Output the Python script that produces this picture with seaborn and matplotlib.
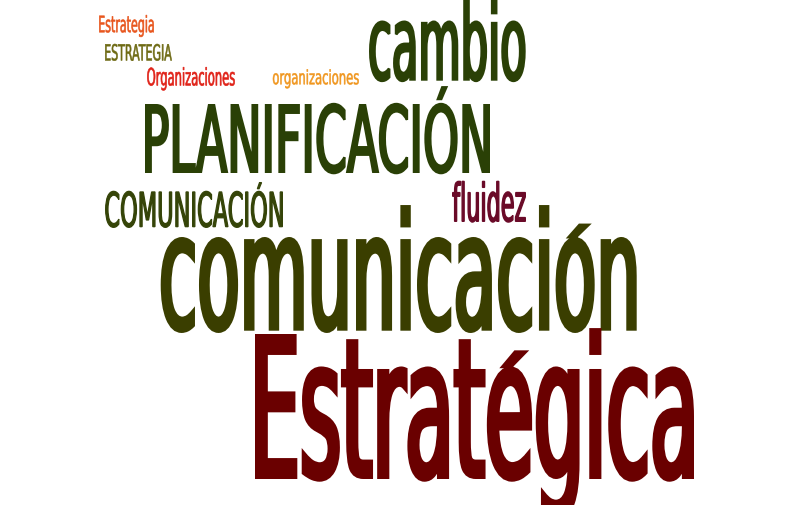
import matplotlib
matplotlib.use("Agg")
import numpy as np
import matplotlib.pyplot as plt
import seaborn as sns
from matplotlib.text import Text
from matplotlib.textpath import TextPath
from matplotlib.path import Path
from matplotlib.font_manager import FontProperties
from matplotlib.transforms import Affine2D, Bbox
from matplotlib import patheffects

# words of the cloud
words = ["Estrategia", "ESTRATEGIA", "Organizaciones", "organizaciones", "cambio",
         "PLANIFICACIÓN", "COMUNICACIÓN", "fluidez", "comunicación", "Estratégica"]
colors = ["#e8561e", "#6e6a14", "#e02218", "#f0961e", "#2a4006",
          "#2a4006", "#354408", "#6a0a28", "#3a3e00", "#6a0000"]

# layout (pixels of the 792x506 image): left, right, top of ref glyph, baseline, ref glyph
layout = [
    (99, 154, 16.5, 33.5, "E"),
    (105, 172, 45, 61.7, "E"),
    (147, 235, 68.3, 86.7, "O"),
    (272.7, 359, 74, 85.5, "o"),
    (369, 525.7, 21.5, 81.7, "o"),
    (145, 490, 105, 174, "P"),
    (105, 283, 191.7, 228.3, "C"),
    (452, 526, 181.7, 223, "l"),
    (160.7, 636.7, 238, 331.7, "o"),
    (255, 694, 335, 480, "E"),
]
# lowercase words whose acute accent sits low (like the gothic face of the original)
low_accent = {"comunicación", "Estratégica"}

W, H, DPI = 792, 506, 100
FAMILY = "DejaVu Sans"
WEIGHT = "normal"
STROKE = 0.026  # outline width, in em, thickens the squeezed stems


def lower_accents(path, xtop):
    """move floating slanted contours (acute accents) down onto the x-height"""
    verts = path.vertices.copy()
    codes = path.codes
    if codes is None:
        return path
    starts = np.flatnonzero(codes == Path.MOVETO)
    ends = list(starts[1:]) + [len(codes)]
    for s, e in zip(starts, ends):
        c = codes[s:e]
        keep = c != Path.CLOSEPOLY
        v = verts[s:e][keep]
        if len(v) < 3 or v[:, 1].min() <= xtop + 1:
            continue
        d = np.diff(v, axis=0)
        if not np.any((np.abs(d[:, 0]) > 1) & (np.abs(d[:, 1]) > 1)):
            continue  # i dots are plain rectangles
        lo, hi = v[:, 1].min(), v[:, 1].max()
        seg = verts[s:e]
        seg[keep, 1] = xtop * 1.03 + (seg[keep, 1] - lo) / (hi - lo) * 0.12 * xtop
        verts[s:e] = seg
    return Path(verts, codes)


class Squeeze(patheffects.AbstractPathEffect):
    """squeeze glyph outlines horizontally around the text anchor, then outline them"""
    def __init__(self, txt):
        super().__init__()
        self.txt = txt

    def draw_path(self, renderer, gc, tpath, affine, rgbFace=None):
        if self.txt.xtop is not None:
            tpath = lower_accents(tpath, self.txt.xtop)
        cx = self.txt.anchor_px()
        sq = Affine2D().translate(-cx, 0).scale(self.txt.sx, 1).translate(cx, 0)
        gc0 = renderer.new_gc()
        gc0.copy_properties(gc)
        gc0.set_foreground(rgbFace)
        gc0.set_linewidth(self.txt.lw_px * 72 / renderer.dpi)
        gc0.set_joinstyle("miter")
        renderer.draw_path(gc0, tpath, affine + sq, rgbFace)
        gc0.restore()


class SqueezedText(Text):
    def __init__(self, *args, sx=1.0, xtop=None, lw_px=0.0, **kw):
        super().__init__(*args, **kw)
        self.sx = sx
        self.xtop = xtop
        self.lw_px = lw_px
        self.set_path_effects([Squeeze(self)])

    def anchor_px(self):
        return self.get_transform().transform(self.get_position())[0]

    def get_window_extent(self, renderer=None, dpi=None):
        bb = super().get_window_extent(renderer, dpi)
        cx = self.anchor_px()
        return Bbox([[cx + self.sx * (bb.x0 - cx), bb.y0],
                     [cx + self.sx * (bb.x1 - cx), bb.y1]])


sns.set_theme(style="white")
plt.rcParams["font.family"] = [FAMILY]

fig = plt.figure(figsize=(W / DPI, H / DPI), dpi=DPI)
ax = fig.add_axes([0, 0, 1, 1])
ax.set_xlim(0, W)
ax.set_ylim(H, 0)
ax.axis("off")

palette = sns.color_palette(colors)
prop = FontProperties(family=FAMILY, weight=WEIGHT, size=100)
xtop_units = TextPath((0, 0), "o", prop=prop).get_extents().y1

for word, col, (x0, x1, top, base, ref) in zip(words, palette, layout):
    ref_ext = TextPath((0, 0), ref, prop=prop).get_extents()
    word_ext = TextPath((0, 0), word, prop=prop).get_extents()
    size_px = (base - top) / (ref_ext.y1 / 100 + STROKE)
    k = size_px / 100
    w = STROKE * size_px
    sx = (x1 - x0 - w) / ((word_ext.x1 - word_ext.x0) * k)
    xa = x0 + w / 2 - sx * word_ext.x0 * k
    t = SqueezedText(xa, base - w / 2, word, sx=sx, lw_px=w,
                     xtop=xtop_units if word in low_accent else None,
                     color=col, ha="left", va="baseline",
                     fontsize=size_px * 72 / DPI, fontweight=WEIGHT,
                     fontfamily=FAMILY, transform=ax.transData, clip_on=False)
    ax.add_artist(t)

fig.savefig("out.png", dpi=DPI, facecolor="white")
